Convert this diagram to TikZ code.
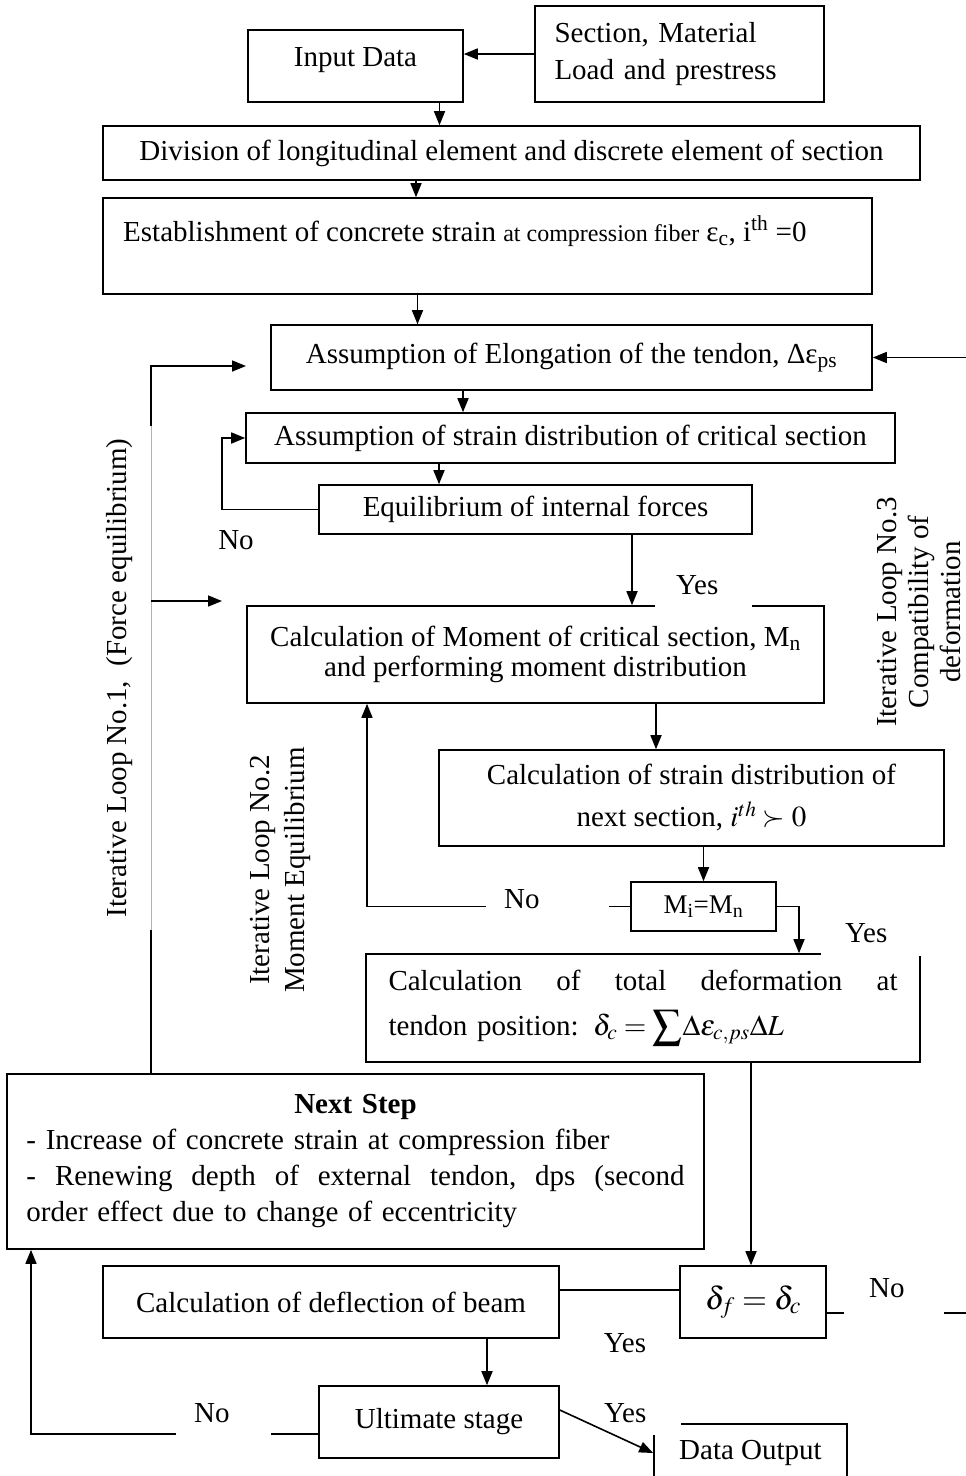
\documentclass[tikz,border=0pt]{standalone}
\usepackage{mathptmx}
\usepackage{fontspec}
\setmainfont{Liberation Serif}
\usetikzlibrary{arrows.meta}

\tikzset{
  stepbox/.style={draw, line width=1.6pt, inner sep=0pt, align=center, font=\fontsize{29}{33}\selectfont},
  txt/.style={inner sep=0pt, font=\fontsize{29}{33}\selectfont},
  cover/.style={txt, fill=white, align=left},
  flow/.style={line width=1.6pt, -{Triangle[length=14pt,width=11pt]}},
  wire/.style={line width=1.6pt},
}

\begin{document}
\begin{tikzpicture}[x=1pt,y=-1pt]
  \useasboundingbox (0,0) rectangle (966,1476);
  \clip (0,0) rectangle (966,1476);

  % Input boxes
  \node[stepbox, minimum width=215pt, minimum height=72pt, text depth=18pt] (input) at (355.5,66) {Input Data};
  \node[stepbox, minimum width=289pt, minimum height=96pt, text width=250pt, align=left,
        font=\fontsize{29}{37}\selectfont] (src) at (679.5,54) {Section, Material\\Load and prestress};

  % Preparation
  \node[stepbox, minimum width=817pt, minimum height=54pt] (div) at (511.5,153)
    {Division of longitudinal element and discrete element of section};
  \node[stepbox, minimum width=769pt, minimum height=96pt] (est) at (487.5,246) {};
  \node[txt, anchor=base west] (esttxt) at (123,241)
    {Establishment of concrete strain {\fontsize{24}{28}\selectfont at compression fiber} ε\textsubscript{c}, i\textsuperscript{th} =0};

  % Inner loops
  \node[stepbox, minimum width=601pt, minimum height=65pt] (elong) at (571.5,357.5)
    {Assumption of Elongation of the tendon, Δε\textsubscript{ps}};
  \node[stepbox, minimum width=649pt, minimum height=50pt] (strain) at (570.5,438)
    {Assumption of strain distribution of critical section};
  \node[stepbox, minimum width=433pt, minimum height=49pt] (equil) at (535.5,509.5)
    {Equilibrium of internal forces};
  \node[stepbox, minimum width=577pt, minimum height=97pt, font=\fontsize{29}{30}\selectfont] (moment) at (535.5,654.5)
    {Calculation of Moment of critical section, M\textsubscript{n}\\and performing moment distribution};
  \node[stepbox, minimum width=505pt, minimum height=96pt, font=\fontsize{29}{42}\selectfont] (nextsec) at (691.5,798)
    {Calculation of strain distribution of\\next section, $i^{th} \succ 0$};
  \node[stepbox, minimum width=145pt, minimum height=49pt, font=\fontsize{27}{30}\selectfont] (mcheck) at (703.5,906.5)
    {M\textsubscript{i}=M\textsubscript{n}};
  \node[stepbox, minimum width=554pt, minimum height=108pt, text width=509pt, align=left,
        font=\fontsize{29}{45}\selectfont] (total) at (643,1008)
    {Calculation\hfill of\hfill total\hfill deformation\hfill at\\
     tendon position: $\delta_c = {\displaystyle\sum}\Delta\varepsilon_{c,ps}\Delta L$};

  % Outer loop
  \node[stepbox, minimum width=697pt, minimum height=175pt, text width=658pt, align=left,
        font=\fontsize{29}{36}\selectfont] (nstep) at (355.5,1161.5)
    {\hfill\textbf{Next Step}\hfill\null\\
     - Increase of concrete strain at compression fiber\\
     -\hfill Renewing\hfill depth\hfill of\hfill external\hfill tendon,\hfill dps\hfill (second\\
     order effect due to change of eccentricity};
  \node[stepbox, minimum width=456pt, minimum height=72pt] (defl) at (331,1302) {Calculation of deflection of beam};
  \node[stepbox, minimum width=146pt, minimum height=72pt, font=\fontsize{32}{36}\selectfont] (dcheck) at (753,1302)
    {$\delta_f = \delta_c$};
  \node[stepbox, minimum width=240pt, minimum height=72pt] (ult) at (439,1422) {Ultimate stage};
  \node[stepbox, minimum width=193pt, minimum height=58pt] (out) at (750.5,1453) {Data Output};

  % Main flow
  \draw[flow] (src.west) -- (src.west -| input.east);
  \draw[flow] ([xshift=84pt]input.south) -- ([xshift=84pt]input.south |- div.north);
  \draw[flow] ([xshift=-95.5pt]div.south) -- ([xshift=-95.5pt]div.south |- est.north);
  \draw[flow] ([xshift=-70pt]est.south) -- ([xshift=-70pt]est.south |- elong.north);
  \draw[flow] ([xshift=-108.5pt]elong.south) -- ([xshift=-108.5pt]elong.south |- strain.north);
  \draw[flow] ([xshift=-131.5pt]strain.south) -- ([xshift=-131.5pt]strain.south |- equil.north);
  \draw[flow] ([xshift=96.5pt]equil.south) -- ([xshift=96.5pt]equil.south |- moment.north);
  \draw[flow] ([xshift=120.5pt]moment.south) -- ([xshift=120.5pt]moment.south |- nextsec.north);
  \draw[flow] (nextsec.south -| mcheck.north) -- (mcheck.north);
  \draw[flow] (mcheck.east) -| ([xshift=156pt]total.north);
  \draw[flow] ([xshift=108pt]total.south) -- ([xshift=108pt]total.south |- dcheck.north);
  \draw[wire] ([yshift=12pt]dcheck.west) -- ([yshift=12pt]dcheck.west -| defl.east);
  \draw[flow] ([xshift=156pt]defl.south) -- ([xshift=156pt]defl.south |- ult.north);

  % Loops back
  \coordinate (rgt) at (968,700);
  \coordinate (l1a) at (246,366);
  \coordinate (l1b) at (222,601);
  \coordinate (l1g) at (151,930);
  \coordinate (l1h) at (151,426);
  \draw[flow] (equil.west) -- ++(-96pt,0) |- (strain.west);
  \draw[flow] (mcheck.west) -| ([xshift=-168.5pt]moment.south);
  \draw[flow] ([yshift=-11pt]dcheck.east) -| (rgt) |- (elong.east);
  \draw[flow] ([yshift=-12pt]ult.west) -| ([xshift=-324.5pt]nstep.south);
  \draw[wire] ([xshift=-204.5pt]nstep.north) -- (l1g);
  \draw[gray!60, thin] (l1g) -- (l1h);
  \draw[flow] (l1h) |- (l1a);
  \draw[flow] (l1b -| l1g) -- (l1b);

  % Labels
  \node[txt] (no1) at (236,540) {No};
  \node[cover, anchor=west, text width=55pt, inner xsep=21pt, minimum height=44pt] (yes1) at (655,585) {Yes};
  \node[cover, anchor=west, text width=87pt, inner xsep=18pt, minimum height=44pt] (no2) at (486,899) {No};
  \node[cover, anchor=west, text width=76pt, inner xsep=24pt, minimum height=46pt] (yes2) at (821,933) {Yes};
  \node[cover, anchor=west, text width=50pt, inner xsep=25pt, minimum height=54pt] (no3) at (844,1288) {No};
  \node[txt] (yes3) at (625,1343) {Yes};
  \node[cover, anchor=west, text width=59pt, inner xsep=18pt, minimum height=50pt] (no4) at (176,1413) {No};
  \node[cover, anchor=west, text width=73pt, inner xsep=4pt, minimum height=44pt] (yes4) at (600,1413) {Yes};
  \draw[flow] ([yshift=12pt]ult.east) -- (out.west);

  % Loop names
  \node[txt, rotate=90] (loop1) at (120,678) {Iterative Loop No.1,~~(Force equilibrium)};
  \node[txt, rotate=90, align=center, font=\fontsize{29}{35}\selectfont] (loop2) at (280,870)
    {Iterative Loop No.2\\Moment Equilibrium};
  \node[txt, rotate=90, align=center, font=\fontsize{29}{32}\selectfont] (loop3) at (919,612)
    {Iterative Loop No.3\\Compatibility of\\deformation};
\end{tikzpicture}
\end{document}
